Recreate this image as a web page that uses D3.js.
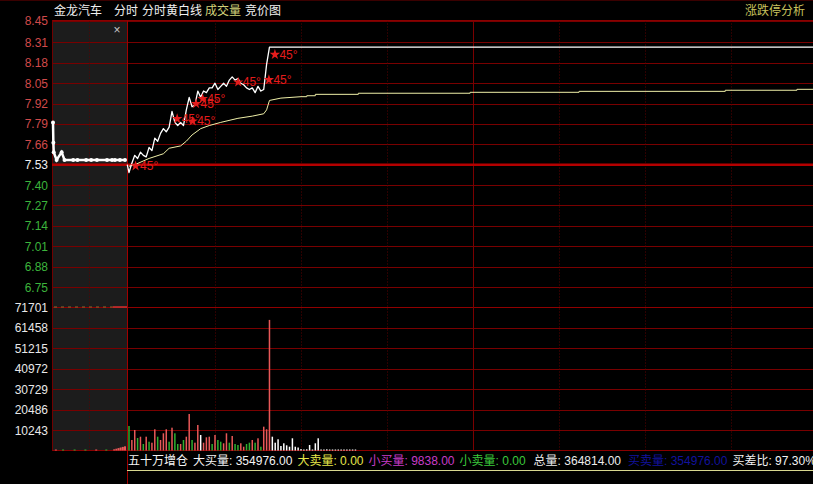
<!DOCTYPE html>
<html><head><meta charset="utf-8">
<script src="https://cdn.jsdelivr.net/npm/d3@7"></script>
<style>html,body{margin:0;padding:0;background:#000;overflow:hidden}</style>
</head><body>
<svg id="c" width="813" height="484"></svg>
<script>
// ---------------- DATA ----------------
const stockName = "金龙汽车";
const titleItems = ["分时", "分时黄白线", "成交量", "竞价图"];
const rightTitle = "涨跌停分析";
const prevClose = 7.53;
const priceTicks = [8.45, 8.31, 8.18, 8.05, 7.92, 7.79, 7.66, 7.53, 7.40, 7.27, 7.14, 7.01, 6.88, 6.75];
const volumeTicks = [71701, 61458, 51215, 40972, 30729, 20486, 10243];
const timeGridMinutes = [30, 60, 90, 120, 150, 180, 210];
const sessionBreak = 120;

// intraday price [minute from 9:30, price]
const pricePoints = [
  [-0.6, 7.53], [0, 7.48], [1, 7.54], [2, 7.59], [3, 7.57], [4, 7.61], [5, 7.59], [6, 7.58], [7, 7.64], [8, 7.62], [9, 7.70],
  [10, 7.68], [11, 7.73], [12, 7.76], [13, 7.74], [14, 7.77], [15, 7.87], [16, 7.80], [17, 7.78], [18, 7.80], [19, 7.78],
  [20, 7.88], [21, 7.96], [22, 7.90], [23, 7.91], [24, 8.00], [25, 7.96], [26, 8.00], [27, 7.99], [28, 8.02], [29, 8.02],
  [30, 8.05], [31, 8.01], [32, 8.03], [33, 8.05], [34, 8.03], [35, 8.07], [36, 8.09], [37, 8.07], [38, 8.08], [39, 8.05],
  [40, 8.04], [41, 8.02], [42, 8.01], [43, 8.02], [44, 7.99], [45, 8.03], [46, 8.00], [47, 8.01], [48, 8.17], [49, 8.28],
  [240, 8.28]
];

// average price line [minute, price]
const avgPoints = [
  [0, 7.52], [2, 7.53], [7, 7.57], [12, 7.60], [14, 7.635], [18, 7.65], [20, 7.68], [22, 7.72], [25, 7.76],
  [28, 7.78], [32, 7.80], [38, 7.826], [43, 7.84], [47, 7.855], [48, 7.88], [49, 7.94], [53, 7.955], [60, 7.964],
  [62, 7.964], [62, 7.970], [65, 7.970], [65, 7.979], [80, 7.979], [80, 7.986], [119, 7.986], [119, 7.992],
  [157, 7.992], [157, 7.998], [208, 7.998], [208, 8.005], [233, 8.005], [233, 8.011], [240, 8.011]
];

// volume per minute (index = minute) and direction (u up / d down / f flat)
const volValues = [
  12250, 5250, 10250, 6250, 6900, 3250, 6900, 4400, 3900, 10600,
  6900, 5250, 8600, 10600, 4400, 11400, 8600, 3250, 3250, 5250,
  6900, 18250, 5250, 3900, 12750, 7750, 3900, 6600, 6900, 3250,
  7750, 5250, 4400, 3600, 8600, 3900, 7250, 3250, 2750, 3600,
  1900, 3250, 3900, 5250, 3900, 6100, 1900, 11900, 10600, 65250,
  6900, 3900, 5600, 2250, 3600, 2600, 1900, 6100, 1900, 1500,
  700, 500, 600, 2750, 500, 3600, 6100, 500, 400, 600,
  400, 500, 300, 400, 300, 500, 300, 400, 300, 300
];
const volDir = [
  "d","u","u","d","u","d","u","d","u","u",
  "d","u","u","u","d","u","d","d","u","d",
  "u","u","d","u","u","f","u","u","u","d",
  "u","d","d","u","u","d","u","d","d","u",
  "u","d","d","u","d","u","d","u","u","u",
  "f","f","f","f","f","f","f","f","f","f",
  "f","f","f","f","f","f","f","f","f","f",
  "f","f","f","f","f","f","f","f","f","f"
];

// call auction (9:15-9:25) [minute from 9:15, price]
const auctionPoints = [
  [0, 7.80], [0.05, 7.67], [0.1, 7.61], [0.5, 7.56], [1.2, 7.61], [1.6, 7.56], [2.8, 7.56], [3.4, 7.56],
  [4.6, 7.56], [5.3, 7.56], [6.1, 7.56], [7.5, 7.56], [8.2, 7.56], [8.6, 7.56], [9.3, 7.56], [10, 7.56]
];
const auctionVol = [[0.4, 500, "u"], [1.4, 300, "d"], [3.0, 250, "d"], [4.5, 250, "d"], [6.0, 300, "u"], [7.4, 300, "d"],
  [8.5, 600, "u"], [8.8, 900, "u"], [9.1, 1200, "u"], [9.4, 1500, "u"], [9.7, 1800, "u"], [10, 2100, "u"]];

// "★45°" signal marks [minute, price]
const signalText = "45°";
const signals = [[2.3, 7.525], [16.8, 7.826], [22.2, 7.811], [23.4, 7.922], [25.7, 7.954], [38.1, 8.060], [48.8, 8.075], [50.9, 8.236]];

// bottom statistics
const statHead = "五十万增仓";
const statLabels = ["大买量", "大卖量", "小买量", "小卖量", "总量", "买卖量", "买差比"];
const statValues = ["354976.00", "0.00", "9838.00", "0.00", "364814.00", "354976.00", "97.30%"];

// ---------------- DRAW ----------------
const W = 813, H = 484;
const svg = d3.select("#c");
const NUM = "'Liberation Sans', Arial, 'Noto Sans CJK SC', sans-serif";
const CJK = "'Noto Sans CJK SC', 'Liberation Sans', sans-serif";

const x = d3.scaleLinear().domain([0, 240]).range([129, 817]);
const xA = d3.scaleLinear().domain([0, 10]).range([53, 125]);
const yP = d3.scaleLinear().domain([6.75, 8.45]).range([287, 20.5]);
const yV = d3.scaleLinear().domain([0, 71701]).range([450.5, 307]);

const L = 52, PL = 127, R = W, TOP = 20.5, VB = 450.5;
const gridRed = "#780000";

svg.append("rect").attr("width", W).attr("height", H).attr("fill", "#000");
// auction panel
svg.append("rect").attr("x", L).attr("y", TOP).attr("width", PL - L).attr("height", VB - TOP).attr("fill", "#1c1c1c");

// horizontal grid
svg.append("g").selectAll("line").data(priceTicks.filter(v => v !== prevClose)).join("line")
  .attr("x1", L).attr("x2", R).attr("y1", d => Math.round(yP(d)) + 0.5).attr("y2", d => Math.round(yP(d)) + 0.5)
  .attr("stroke", gridRed).attr("stroke-width", 1);
svg.append("g").selectAll("line").data(volumeTicks).join("line")
  .attr("x1", L).attr("x2", R).attr("y1", d => Math.round(yV(d)) + 0.5).attr("y2", d => Math.round(yV(d)) + 0.5)
  .attr("stroke", d => d === volumeTicks[0] ? "#900000" : gridRed).attr("stroke-width", 1);

// vertical grid
svg.append("g").selectAll("line").data(timeGridMinutes).join("line")
  .attr("x1", d => Math.round(x(d)) + 0.5).attr("x2", d => Math.round(x(d)) + 0.5)
  .attr("y1", TOP).attr("y2", VB)
  .attr("stroke", d => d === sessionBreak ? "#7a0000" : "#5a0000")
  .attr("stroke-dasharray", d => d === sessionBreak ? null : "1,2");
svg.append("line").attr("x1", Math.round(xA(5)) + 0.5).attr("x2", Math.round(xA(5)) + 0.5).attr("y1", TOP).attr("y2", VB)
  .attr("stroke", "#5a0000").attr("stroke-dasharray", "1,2");

// title separator, borders
svg.append("line").attr("x1", 0).attr("x2", W).attr("y1", 0.5).attr("y2", 0.5).attr("stroke", "#3a0000");
svg.append("line").attr("x1", L).attr("x2", W).attr("y1", TOP).attr("y2", TOP).attr("stroke", "#8a0000");
svg.append("line").attr("x1", L).attr("x2", W).attr("y1", VB).attr("y2", VB).attr("stroke", "#8a0000");
svg.append("line").attr("x1", L + 0.5).attr("x2", L + 0.5).attr("y1", TOP).attr("y2", VB).attr("stroke", "#700000");
svg.append("line").attr("x1", PL + 0.5).attr("x2", PL + 0.5).attr("y1", TOP).attr("y2", H).attr("stroke", "#a00000");
svg.append("line").attr("x1", PL).attr("x2", W).attr("y1", 470.5).attr("y2", 470.5).attr("stroke", "#d8d890");

// previous close line
svg.append("line").attr("x1", L).attr("x2", R).attr("y1", yP(prevClose)).attr("y2", yP(prevClose))
  .attr("stroke", "#b40000").attr("stroke-width", 2.5);

// auction volume reference line
svg.append("line").attr("x1", L + 2).attr("x2", xA(8.3)).attr("y1", yV(71701)).attr("y2", yV(71701))
  .attr("stroke", "#8a6a30").attr("stroke-dasharray", "3,4");
svg.append("line").attr("x1", xA(8.3)).attr("x2", PL).attr("y1", yV(71701)).attr("y2", yV(71701))
  .attr("stroke", "#d03030").attr("stroke-width", 1.5);

const dirColor = { u: "#e85858", d: "#2fae2f", f: "#ffffff" };

// volume bars
svg.append("g").selectAll("rect").data(volValues.map((v, i) => ({ m: i, v, dir: volDir[i] }))).join("rect")
  .attr("x", d => x(d.m) - 0.75).attr("width", 1.5)
  .attr("y", d => Math.min(yV(d.v), VB - 1)).attr("height", d => Math.max(VB - yV(d.v), 1))
  .attr("fill", d => dirColor[d.dir]);
svg.append("g").selectAll("rect").data(auctionVol).join("rect")
  .attr("x", d => xA(d[0]) - 1).attr("width", 2)
  .attr("y", d => Math.min(yV(d[1]), VB - 1)).attr("height", d => Math.max(VB - yV(d[1]), 1))
  .attr("fill", d => dirColor[d[2]]);

// average line
svg.append("path").datum(avgPoints)
  .attr("d", d3.line().x(d => x(d[0])).y(d => yP(d[1])))
  .attr("fill", "none").attr("stroke", "#f0f0a8").attr("stroke-width", 1);

// price line
svg.append("path").datum(pricePoints)
  .attr("d", d3.line().x(d => x(d[0])).y(d => yP(d[1])))
  .attr("fill", "none").attr("stroke", "#ffffff").attr("stroke-width", 1.3).attr("stroke-linejoin", "round");

// auction line
svg.append("path").datum(auctionPoints)
  .attr("d", d3.line().x(d => xA(d[0])).y(d => yP(d[1])))
  .attr("fill", "none").attr("stroke", "#ffffff").attr("stroke-width", 2.5);
svg.append("g").selectAll("circle").data(auctionPoints).join("circle")
  .attr("cx", d => xA(d[0])).attr("cy", d => yP(d[1])).attr("r", 2).attr("fill", "#ffffff");

// signals: star symbol + text
const sigG = svg.append("g");
sigG.selectAll("path").data(signals).join("path")
  .attr("d", d3.symbol(d3.symbolStar).size(34))
  .attr("transform", d => `translate(${x(d[0])},${yP(d[1]) + 0.5})`)
  .attr("fill", "#e41c1c");
sigG.selectAll("text").data(signals).join("text")
  .attr("x", d => x(d[0]) + 4.5).attr("y", d => yP(d[1]) + 4.5)
  .attr("fill", "#e41c1c").attr("font-family", NUM).attr("font-size", 12)
  .text(signalText);

// price axis labels
svg.append("g").selectAll("text").data(priceTicks).join("text")
  .attr("x", 48).attr("y", d => yP(d) + 4.5).attr("text-anchor", "end")
  .attr("font-family", NUM).attr("font-size", 12)
  .attr("fill", d => d > prevClose ? "#d04a4a" : d < prevClose ? "#3cb43c" : "#f0f0f0")
  .text(d => d.toFixed(2));
svg.append("g").selectAll("text").data(volumeTicks).join("text")
  .attr("x", 48).attr("y", d => yV(d) + 4.5).attr("text-anchor", "end")
  .attr("font-family", NUM).attr("font-size", 12).attr("fill", "#e8e8e8")
  .text(d => d);

// close mark in auction panel
svg.append("text").attr("x", 117).attr("y", 34).attr("text-anchor", "middle")
  .attr("font-family", NUM).attr("font-size", 12).attr("fill", "#c8c8c8").text("×");

// title row
const titleColors = ["#f0f0f0", "#f0f0f0", "#d2d27a", "#f0f0f0"];
const titleGaps = [12, 4, 3, 4];
let tx = 54;
const t0 = svg.append("text").attr("x", tx).attr("y", 15).attr("font-family", CJK).attr("font-size", 12)
  .attr("fill", "#f0f0f0").text(stockName);
tx += t0.node().getComputedTextLength();
titleItems.forEach((s, i) => {
  tx += titleGaps[i];
  const t = svg.append("text").attr("x", tx).attr("y", 15).attr("font-family", CJK).attr("font-size", 12)
    .attr("fill", titleColors[i]).text(s);
  tx += t.node().getComputedTextLength();
});
svg.append("text").attr("x", 805).attr("y", 15).attr("text-anchor", "end").attr("font-family", CJK)
  .attr("font-size", 12).attr("fill", "#c8c25e").text(rightTitle);

// bottom stats
const statColors = ["#f4f4f4", "#e6e64a", "#c83cc8", "#3cc83c", "#ececec", "#12129c", "#f4f4f4"];
const statGaps = [5, 5, 5, 5, 8, 7, 5];
let bx = 128;
const h0 = svg.append("text").attr("x", bx).attr("y", 465).attr("font-family", CJK).attr("font-size", 12)
  .attr("fill", "#f4f4f4").text(statHead);
bx += h0.node().getComputedTextLength();
statLabels.forEach((lab, i) => {
  bx += statGaps[i];
  const t = svg.append("text").attr("x", bx).attr("y", 465).attr("font-family", NUM).attr("font-size", 12)
    .attr("fill", statColors[i]);
  t.append("tspan").attr("font-family", CJK).text(lab);
  t.append("tspan").text(": " + statValues[i]);
  bx += t.node().getComputedTextLength();
});
</script>
</body></html>
